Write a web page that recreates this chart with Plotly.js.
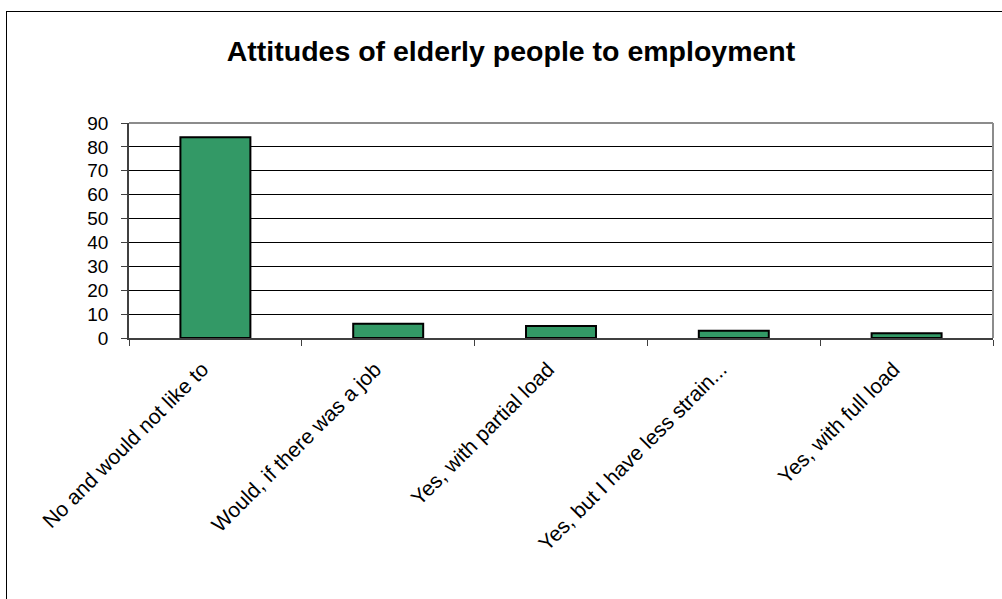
<!DOCTYPE html>
<html>
<head>
<meta charset="utf-8">
<script src="https://cdn.plot.ly/plotly-3.0.1.min.js"></script>
<style>
html,body{margin:0;padding:0;background:#fff;overflow:hidden;}
#wrap{position:relative;width:1002px;height:599px;overflow:hidden;}
#chart{position:absolute;left:0;top:0;width:1002px;height:599px;}
#frame{position:absolute;left:6px;top:11px;width:2000px;height:2000px;border:1.5px solid #000;pointer-events:none;}
</style>
</head>
<body>
<div id="wrap">
<div id="chart"></div>
<div id="frame"></div>
</div>
<script>
const categories = [
  "No and would not like to",
  "Would, if there was a job",
  "Yes, with partial load",
  "Yes, but I have less strain...",
  "Yes, with full load"
];
const values = [84, 6, 5, 3, 2];
const yTicks = [0, 10, 20, 30, 40, 50, 60, 70, 80, 90];

const L = 129, R = 9, T = 123, B = 261;

const trace = {
  type: 'bar',
  x: categories,
  y: values,
  marker: {color: '#339966', line: {color: '#000000', width: 2}},
  hoverinfo: 'x+y'
};

const layout = {
  width: 1002, height: 599,
  margin: {l: L, r: R, t: T, b: B, pad: 0},
  paper_bgcolor: 'rgba(0,0,0,0)',
  plot_bgcolor: '#ffffff',
  font: {family: 'Liberation Sans, Arial, sans-serif', color: '#000000'},
  title: {
    text: '<b>Attitudes of elderly people to employment</b>',
    font: {size: 28.5, family: 'Liberation Sans, Arial, sans-serif', color: '#000'},
    xref: 'container', x: 0.51, xanchor: 'center',
    yref: 'container', y: 1 - 41/599, yanchor: 'top'
  },
  bargap: 0.595,
  showlegend: false,
  xaxis: {
    type: 'category',
    tickangle: -45,
    tickfont: {size: 21},
    ticks: 'outside', ticklen: 6, tickwidth: 1, tickcolor: '#404040',
    tickson: 'boundaries',
    ticklabelstandoff: 9,
    ticklabelshift: -13,
    showline: true, linecolor: '#404040', linewidth: 1.5,
    showgrid: false,
    fixedrange: true
  },
  yaxis: {
    range: [0, 90],
    tickvals: yTicks,
    tickfont: {size: 19},
    ticks: 'outside', ticklen: 6, tickwidth: 1, tickcolor: '#404040',
    ticklabelstandoff: 9,
    showline: true, linecolor: '#404040', linewidth: 1.5,
    showgrid: true, gridcolor: '#000000', gridwidth: 1,
    zeroline: false,
    fixedrange: true
  },
  shapes: [
    {type: 'line', xref: 'paper', yref: 'paper', x0: 0, x1: 1, y0: 1, y1: 1,
     line: {color: '#8c8c8c', width: 2}},
    {type: 'line', xref: 'paper', yref: 'paper', x0: 1, x1: 1, y0: 0, y1: 1,
     line: {color: '#8c8c8c', width: 2}}
  ]
};

Plotly.newPlot('chart', [trace], layout, {displayModeBar: false});
</script>
</body>
</html>
